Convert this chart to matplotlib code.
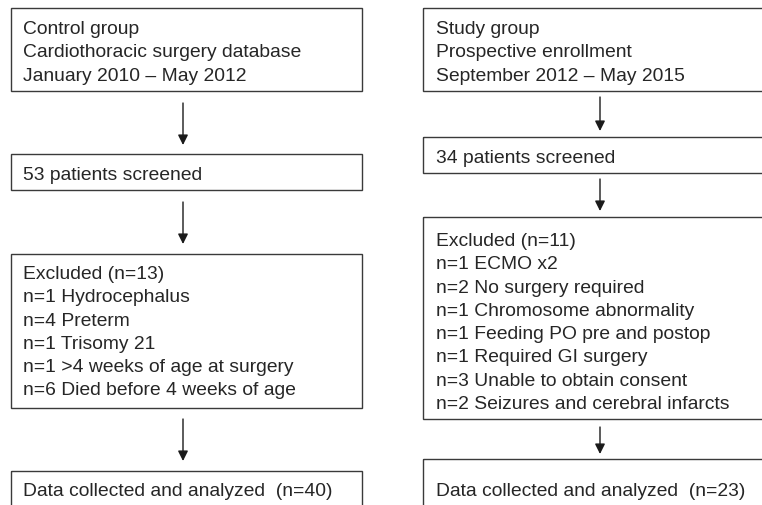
import matplotlib
matplotlib.use("Agg")
import matplotlib.pyplot as plt
from matplotlib.patches import Rectangle

# box texts, one list per column (top to bottom)
control_boxes = [
    ["Control group", "Cardiothoracic surgery database", "January 2010 \u2013 May 2012"],
    ["53 patients screened"],
    ["Excluded (n=13)", "n=1 Hydrocephalus", "n=4 Preterm", "n=1 Trisomy 21",
     "n=1 >4 weeks of age at surgery", "n=6 Died before 4 weeks of age"],
    ["Data collected and analyzed  (n=40)"],
]
study_boxes = [
    ["Study group", "Prospective enrollment", "September 2012 \u2013 May 2015"],
    ["34 patients screened"],
    ["Excluded (n=11)", "n=1 ECMO x2", "n=2 No surgery required",
     "n=1 Chromosome abnormality", "n=1 Feeding PO pre and postop",
     "n=1 Required GI surgery", "n=3 Unable to obtain consent",
     "n=2 Seizures and cerebral infarcts"],
    ["Data collected and analyzed  (n=23)"],
]

# layout in pixels: (top, bottom) of each box, first baseline
left_col = dict(x0=11, x1=362, xt=23, xa=183,
                boxes=[(9, 92, 34), (155, 191, 180), (255, 409, 279), (472, 530, 496)],
                arrows=[(104, 146), (203, 245), (420, 462)])
right_col = dict(x0=423, x1=790, xt=436, xa=600,
                 boxes=[(9, 92, 34), (138, 174, 163), (218, 420, 246), (460, 530, 496)],
                 arrows=[(98, 132), (180, 212), (428, 455)])

FS = 13.9
LINE = 23.3
TXT = "#262626"
EDGE = "#3a3a3a"

plt.rcParams['font.family'] = ['Liberation Sans', 'DejaVu Sans']
fig = plt.figure(figsize=(7.62, 5.06), dpi=100)
ax = fig.add_axes([0, 0, 1, 1])
ax.set_xlim(0, 762)
ax.set_ylim(506, 0)
ax.axis('off')


def draw_column(col, texts):
    for (top, bot, base), lines in zip(col['boxes'], texts):
        ax.add_patch(Rectangle((col['x0'], top), col['x1'] - col['x0'], bot - top,
                               fill=False, edgecolor=EDGE, linewidth=1.0))
        for i, s in enumerate(lines):
            ax.text(col['xt'], base + i * LINE, s, fontsize=FS, color=TXT,
                    ha='left', va='baseline')
    for y0, y1 in col['arrows']:
        ax.annotate("", xy=(col['xa'], y1), xytext=(col['xa'], y0),
                    arrowprops=dict(arrowstyle='-|>,head_length=0.6,head_width=0.3',
                                    mutation_scale=10, color="#1a1a1a",
                                    linewidth=1.0, shrinkA=0, shrinkB=0))


draw_column(left_col, control_boxes)
draw_column(right_col, study_boxes)

fig.savefig("out.png", dpi=100)
